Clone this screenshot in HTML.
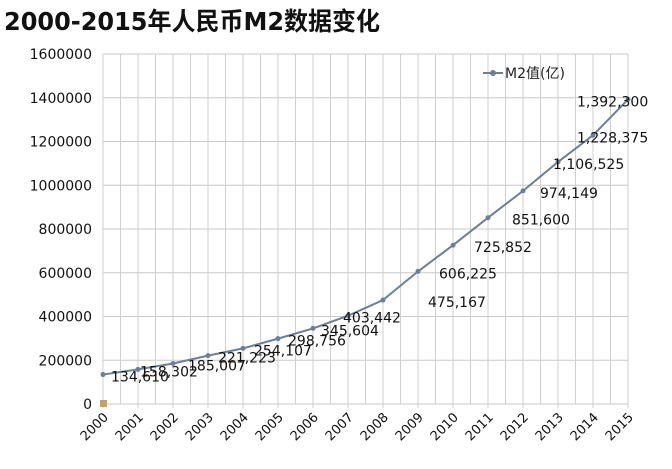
<!DOCTYPE html>
<html><head><meta charset="utf-8"><style>
body{margin:0;background:#fff;}
svg text{font-family:"DejaVu Sans","Noto Sans CJK SC",sans-serif;}
</style></head><body>
<svg width="672" height="464" xmlns="http://www.w3.org/2000/svg">
<text x="4" y="30" font-size="25" font-weight="bold" fill="#111" textLength="376" lengthAdjust="spacingAndGlyphs">2000-2015年人民币M2数据变化</text>
<g id="grid"></g>
<g id="yticks"></g>
<g id="xticks"></g>
<g id="series"></g>
<g>
<line x1="483" y1="73" x2="503" y2="73" stroke="#6b7f99" stroke-width="2"/>
<circle cx="493" cy="73" r="3" fill="#6b7f99"/>
<text x="505" y="78" font-size="14" fill="#222">M2值(亿)</text>
</g>
<rect x="100" y="400" width="7" height="7" fill="#c8a060"/>
</svg>
<script>
const years=[2000,2001,2002,2003,2004,2005,2006,2007,2008,2009,2010,2011,2012,2013,2014,2015];
const m2=[134610,158302,185007,221223,254107,298756,345604,403442,475167,606225,725852,851600,974149,1106525,1228375,1392300];
const yTicks=[0,200000,400000,600000,800000,1000000,1200000,1400000,1600000];
const labelDx=[8,2,15,10,11,10,8,-5,45,21,21,24,17,-5,-16,-51];
const NS="http://www.w3.org/2000/svg";
const x0=103,dx=35,yBase=404,yTop=54,yMax=1600000;
const X=i=>x0+i*dx;
const Y=v=>yBase-(v/yMax)*(yBase-yTop);
function mk(tag,attrs,parent){const e=document.createElementNS(NS,tag);for(const k in attrs)e.setAttribute(k,attrs[k]);parent.appendChild(e);return e;}
const grid=document.getElementById('grid'),yt=document.getElementById('yticks'),xt=document.getElementById('xticks'),ser=document.getElementById('series');
yTicks.forEach(v=>{
  const l=mk('line',{x1:x0,x2:X(years.length-1),y1:Y(v),y2:Y(v),stroke:'#c8c8c8','stroke-width':1},grid);
  
  
  const t=mk('text',{x:92,y:Y(v)+5,'text-anchor':'end','font-size':14,fill:'#111'},yt);
  
  
  t.textContent=v;
});
for(let k=0;k<=(years.length-1)*2;k++){
  const x=x0+k*dx/2;
  const l=mk('line',{x1:x,x2:x,y1:yTop,y2:yBase+(k%2?0:4),stroke:'#cfcfcf','stroke-width':1},grid);
  
  
}
years.forEach((yr,i)=>{
  const t=mk('text',{x:X(i)+6,y:yBase+14,'text-anchor':'end','font-size':13,fill:'#111',transform:`rotate(-45 ${X(i)+6} ${yBase+14})`},xt);
  
  
  t.textContent=yr;
});
const pts=m2.map((v,i)=>X(i)+','+Y(v)).join(' ');
const pl=mk('polyline',{points:pts,fill:'none',stroke:'#6b7f99','stroke-width':2},ser);


m2.forEach((v,i)=>{
  const c=mk('circle',{cx:X(i),cy:Y(v),r:2.5,fill:'#6b7f99'},ser);
  
  
  const t=mk('text',{x:X(i)+labelDx[i],y:Y(v)+7,'font-size':14,fill:'#111'},ser);
  
  
  t.textContent=v.toLocaleString('en-US');
});
</script>
</body></html>
